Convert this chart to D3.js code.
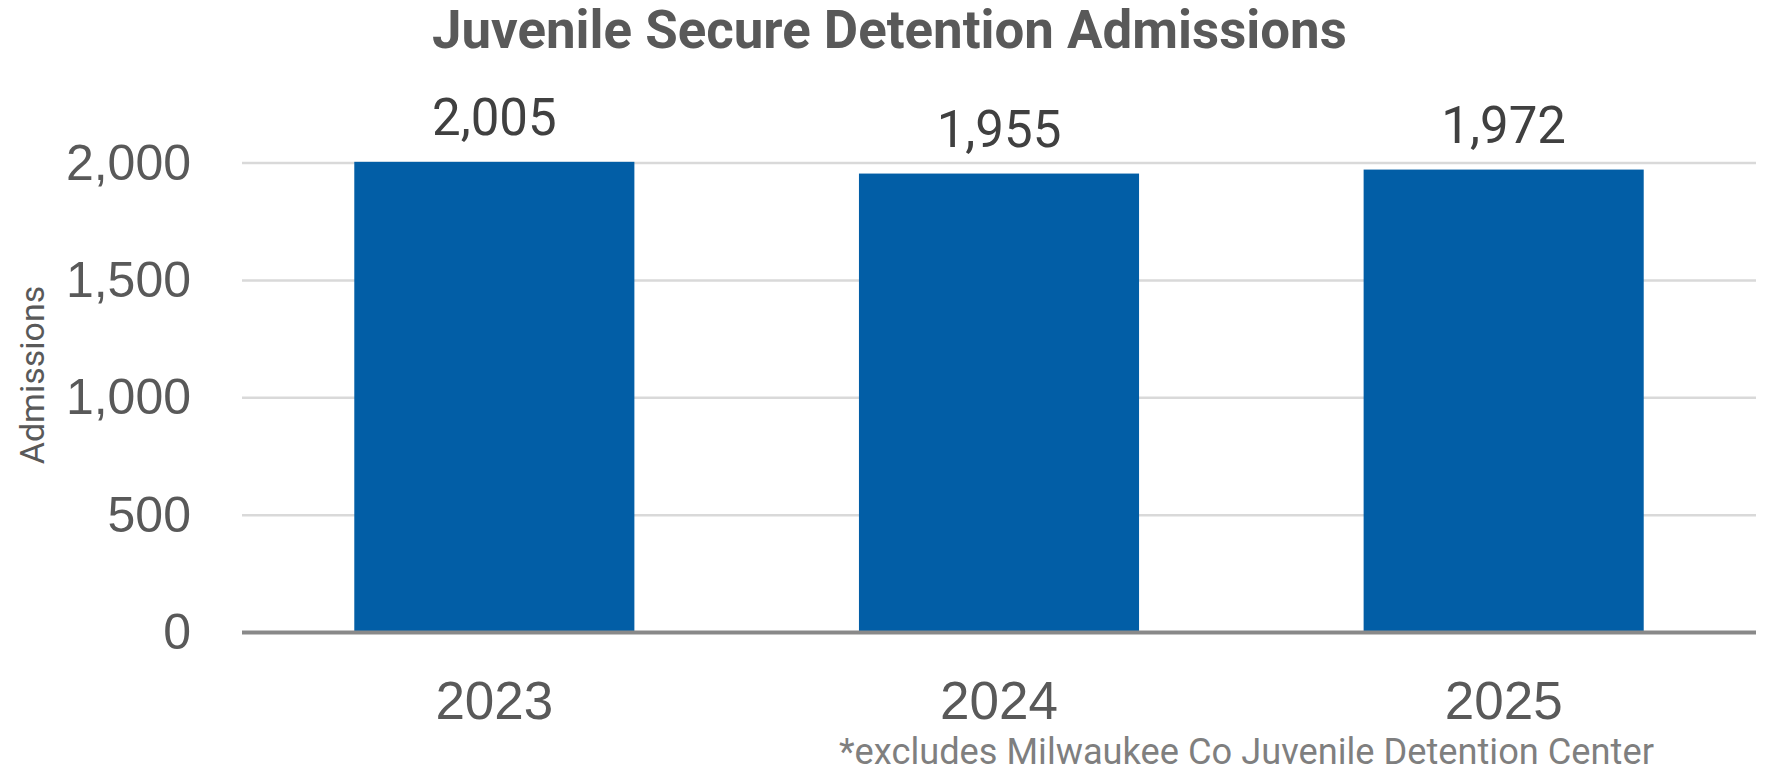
<!DOCTYPE html>
<html lang="en">
<head>
    <meta charset="UTF-8">
    <script src="https://d3js.org/d3.v7.min.js"></script>
    <style>
        body { margin: 0; background: #fff; font-family: Roboto, Arial, sans-serif; overflow: hidden; }
        .tick-label { font-size: 50px; fill: #595959; }
        .value-label { font-size: 51px; fill: #404040; text-anchor: middle; }
        .grid line { stroke: #d9d9d9; stroke-width: 2.5px; }
    </style>
</head>
<body>
    <svg id="chart"></svg>

    <script>
        // data
        const years = ["2023", "2024", "2025"];
        const admissions = [2005, 1955, 1972];
        const yTicks = [0, 500, 1000, 1500, 2000];

        const chartTitle = "Juvenile Secure Detention Admissions";
        const yTitle = "Admissions";
        const footnote = "*excludes Milwaukee Co Juvenile Detention Center";

        function drawChart() {
            const width = 1768, height = 772;
            const plot = {left: 242, right: 1756, top: 163, bottom: 632.5};

            const svg = d3.select("#chart")
                .attr("width", width)
                .attr("height", height);
            svg.selectAll("*").remove();

            const data = years.map((y, i) => ({year: y, value: admissions[i]}));

            const x = d3.scaleBand().domain(years).range([plot.left, plot.right])
                .paddingInner(0.445).paddingOuter(0.2225);
            const y = d3.scaleLinear().domain([0, 2000]).range([plot.bottom, plot.top]);

            // gridlines
            svg.append("g").attr("class", "grid")
                .selectAll("line").data(yTicks.filter(t => t > 0)).join("line")
                .attr("x1", plot.left).attr("x2", plot.right)
                .attr("y1", d => y(d)).attr("y2", d => y(d));

            // y tick labels
            const yAxis = svg.append("g")
                .attr("transform", `translate(${plot.left},0)`)
                .call(d3.axisLeft(y).tickValues(yTicks).tickFormat(d3.format(",")).tickSize(0).tickPadding(51));
            yAxis.select(".domain").remove();
            yAxis.selectAll("text").attr("class", "tick-label").attr("font-family", null).attr("fill", null);

            // bars
            svg.selectAll(".bar").data(data).join("rect")
                .attr("class", "bar")
                .attr("x", d => x(d.year))
                .attr("y", d => y(d.value))
                .attr("width", x.bandwidth())
                .attr("height", d => y(0) - y(d.value))
                .attr("fill", "#025ea6");

            // value labels
            svg.selectAll(".value-label").data(data).join("text")
                .attr("class", "value-label")
                .attr("x", d => x(d.year) + x.bandwidth() / 2)
                .attr("y", d => y(d.value) - 27)
                .text(d => d3.format(",")(d.value));

            // x axis
            const xAxis = svg.append("g")
                .attr("transform", `translate(0,${plot.bottom})`)
                .call(d3.axisBottom(x).tickSize(0).tickPadding(0));
            xAxis.select(".domain").remove();
            xAxis.selectAll("text")
                .attr("font-family", null).attr("fill", "#595959")
                .attr("dy", null).attr("y", 86)
                .style("font-size", "53px");

            svg.append("line")
                .attr("x1", plot.left).attr("x2", plot.right)
                .attr("y1", y(0)).attr("y2", y(0))
                .attr("stroke", "#898989").attr("stroke-width", 4);

            // title, fitted to the width it takes in the reference
            const title = svg.append("text")
                .attr("x", 432).attr("y", 48)
                .attr("fill", "#595959")
                .style("font-size", "44px").style("font-weight", "bold")
                .text(chartTitle);
            const tw = title.node().getComputedTextLength();
            title.style("font-size", (44 * 915 / tw) + "px");

            // y axis title
            svg.append("text")
                .attr("transform", "translate(44,375) rotate(-90)")
                .attr("text-anchor", "middle")
                .attr("fill", "#595959")
                .style("font-size", "34px")
                .text(yTitle);

            const foot = svg.append("text")
                .attr("x", 839).attr("y", 764)
                .attr("fill", "#7f7f7f")
                .style("font-size", "31px")
                .text(footnote);
            const fw = foot.node().getComputedTextLength();
            foot.style("font-size", (31 * 815 / fw) + "px");
        }

        drawChart();
    </script>
</body>
</html>
